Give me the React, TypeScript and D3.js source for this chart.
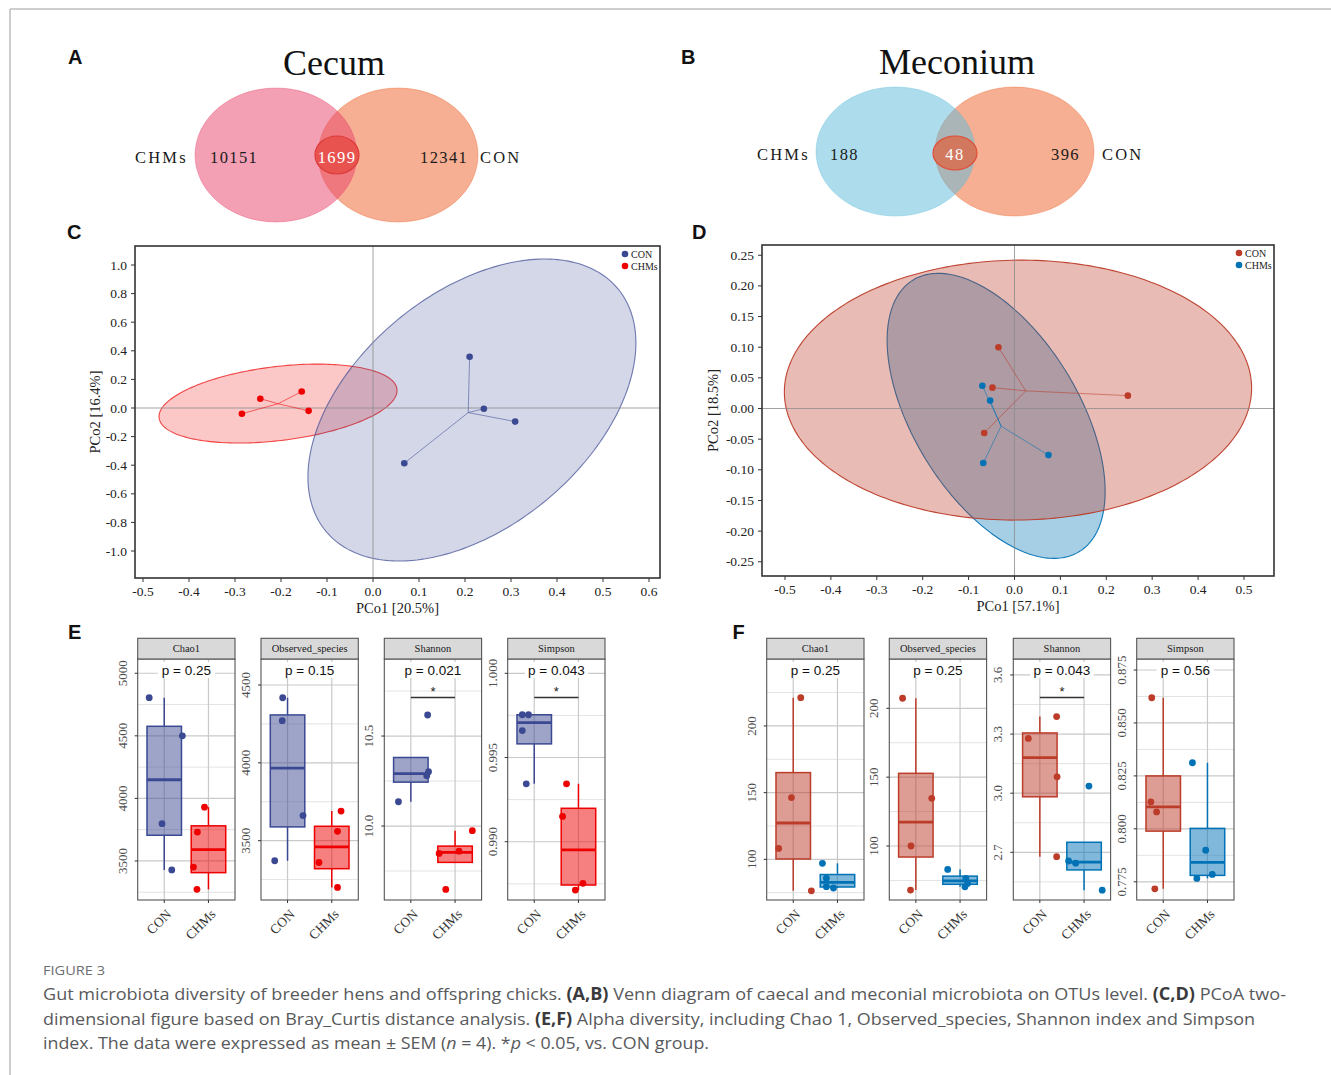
import React from "react";
import * as d3 from "d3";

const SERIF = "'Liberation Serif','Times New Roman',Times,serif";
const SANS = "'Liberation Sans',Arial,Helvetica,sans-serif";
const CAPTION_FONT = "'Open Sans','Noto Sans',sans-serif";

// ---------------- Venn (A, B) ----------------
const vennSetNames = ["CHMs", "CON"];
const cecumVennCounts = [10151, 1699, 12341]; // CHMs only, shared, CON only
const meconiumVennCounts = [188, 48, 396];

// ---------------- PCoA (C, D) ----------------
const pcoaGroupNames = ["CON", "CHMs"];
const cecumConPC1 = [0.21, 0.241, 0.309, 0.068];
const cecumConPC2 = [0.358, -0.005, -0.095, -0.386];
const cecumChmsPC1 = [-0.285, -0.245, -0.155, -0.14];
const cecumChmsPC2 = [-0.04, 0.065, 0.115, -0.02];
// ellipse: [center PC1, center PC2, half-width PC1, half-height PC2, correlation]
const cecumConEllipse = [0.215, -0.014, 0.3565, 1.056, 0.444];
const cecumChmsEllipse = [-0.2065, 0.031, 0.2587, 0.276, 0.33];
const cecumXTicks = [-0.5, -0.4, -0.3, -0.2, -0.1, 0, 0.1, 0.2, 0.3, 0.4, 0.5, 0.6];
const cecumYTicks = [-1.0, -0.8, -0.6, -0.4, -0.2, 0, 0.2, 0.4, 0.6, 0.8, 1.0];

const meconConPC1 = [-0.035, -0.048, -0.066, 0.247];
const meconConPC2 = [0.1, 0.034, -0.04, 0.021];
const meconChmsPC1 = [-0.07, -0.053, -0.068, 0.074];
const meconChmsPC2 = [0.037, 0.013, -0.089, -0.076];
const meconConEllipse = [0.0076, 0.03, 0.509, 0.212, 0.015];
const meconChmsEllipse = [-0.04, -0.012, 0.2375, 0.2325, -0.53];
const meconXTicks = [-0.5, -0.4, -0.3, -0.2, -0.1, 0, 0.1, 0.2, 0.3, 0.4, 0.5];
const meconYTicks = [-0.25, -0.2, -0.15, -0.1, -0.05, 0, 0.05, 0.1, 0.15, 0.2, 0.25];

// ---------------- Alpha diversity (E, F) ----------------
const boxCategories = ["CON", "CHMs"];
const indexNames = ["Chao1", "Observed_species", "Shannon", "Simpson"];

// E: cecum
const eChao1Con = [4805, 4500, 3798, 3428];
const eChao1ConJit = [-0.34, 0.41, -0.05, 0.17];
const eChao1Chms = [3930, 3731, 3451, 3273];
const eChao1ChmsJit = [-0.09, -0.25, -0.34, -0.26];
const eObsCon = [4418, 4271, 3661, 3371];
const eObsConJit = [-0.11, -0.12, 0.35, -0.29];
const eObsChms = [3690, 3560, 3360, 3200];
const eObsChmsJit = [0.21, 0.13, -0.29, 0.13];
const eShanCon = [10.617, 10.302, 10.28, 10.135];
const eShanConJit = [0.38, 0.4, 0.36, -0.28];
const eShanChms = [9.848, 9.86, 9.974, 9.648];
const eShanChmsJit = [-0.36, 0.09, 0.39, -0.21];
const eSimpCon = [0.99754, 0.99754, 0.9966, 0.99344];
const eSimpConJit = [-0.27, -0.13, -0.27, -0.18];
const eSimpChms = [0.99344, 0.9915, 0.98753, 0.98713];
const eSimpChmsJit = [-0.27, -0.36, 0.1, -0.07];
const ePLabels = ["p = 0.25", "p = 0.15", "p = 0.021", "p = 0.043"];
const eSignificant = [false, false, true, true];

// F: meconium
const fChao1Con = [221.2, 146.3, 108.2, 76.4];
const fChao1ConJit = [0.17, -0.04, -0.33, 0.41];
const fChao1Chms = [97, 85.8, 79.5, 78.5];
const fChao1ChmsJit = [-0.34, -0.25, -0.25, -0.09];
const fObsCon = [207.3, 134.6, 100, 68];
const fObsConJit = [-0.3, 0.36, -0.11, -0.12];
const fObsChms = [83, 76.5, 72.8, 70.4];
const fObsChmsJit = [-0.28, 0.13, 0.17, 0.11];
const fShanCon = [3.389, 3.278, 3.083, 2.678];
const fShanConJit = [0.38, -0.26, 0.39, 0.38];
const fShanChms = [3.036, 2.656, 2.645, 2.508];
const fShanChmsJit = [0.11, -0.35, -0.19, 0.41];
const fSimpCon = [0.8619, 0.8127, 0.808, 0.7717];
const fSimpConJit = [-0.26, -0.28, -0.15, -0.19];
const fSimpChms = [0.8312, 0.7899, 0.7766, 0.7785];
const fSimpChmsJit = [-0.34, -0.04, -0.24, 0.11];
const fPLabels = ["p = 0.25", "p = 0.25", "p = 0.043", "p = 0.56"];
const fSignificant = [false, false, true, false];

// axis scales (limits and tick values)
const eDomains = [[3188, 5114], [3119, 4667], [9.589, 10.928], [0.98654, 1.00085]];
const eMajors = [[3500, 4000, 4500, 5000], [3500, 4000, 4500], [10.0, 10.5], [0.99, 0.995, 1.0]];
const eMinors = [[3250, 3750, 4250, 4750], [3250, 3750, 4250], [9.75, 10.25, 10.75], [0.9875, 0.9925, 0.9975]];
const eDigits = [0, 0, 1, 3];
const fDomains = [[69.5, 250.2], [60.8, 235.8], [2.458, 3.681], [0.7664, 0.8802]];
const fMajors = [[100, 150, 200], [100, 150, 200], [2.7, 3.0, 3.3, 3.6], [0.775, 0.8, 0.825, 0.85, 0.875]];
const fMinors = [[75, 125, 175, 225], [75, 125, 175], [2.55, 2.85, 3.15, 3.45], [0.7875, 0.8125, 0.8375, 0.8625]];
const fDigits = [0, 0, 1, 3];

const AAAS_BLUE = "#3B4992";
const AAAS_RED = "#EE0000";
const NEJM_RED = "#BC3C29";
const NEJM_BLUE = "#0072B5";

function PCoA({ box, xDomain, yDomain, xTicks, yTicks, yDigits, groups, fillOpacity, strokeOpacity, xTitle, yTitle, yTitleX, legend, clipId }: any) {
  const [L, T, R, B] = box;
  const x = d3.scaleLinear().domain(xDomain).range([L, R]);
  const y = d3.scaleLinear().domain(yDomain).range([B, T]);
  const line = d3.line().curve(d3.curveLinearClosed);
  const ell = (e: number[]) => {
    const [cx, cy, sx, sy, r] = e;
    const ts = d3.range(0, 2 * Math.PI, Math.PI / 120);
    return line(ts.map((t) => [x(cx + sx * Math.cos(t)), y(cy + sy * (r * Math.cos(t) + Math.sqrt(1 - r * r) * Math.sin(t)))]) as any);
  };
  return (
    <g>
      <defs>
        <clipPath id={clipId}>
          <rect x={L} y={T} width={R - L} height={B - T} />
        </clipPath>
      </defs>
      <rect x={L} y={T} width={R - L} height={B - T} fill="#fff" />
      <g clipPath={`url(#${clipId})`}>
        {groups.map((g: any) => (
          <path key={"e" + g.name} d={ell(g.ellipse) as any} fill={g.color} fillOpacity={fillOpacity} stroke={g.color} strokeOpacity={strokeOpacity} strokeWidth={1.1} />
        ))}
        <line x1={x(0)} x2={x(0)} y1={T} y2={B} stroke="#8c8c8c" strokeWidth={1} strokeOpacity={0.8} />
        <line x1={L} x2={R} y1={y(0)} y2={y(0)} stroke="#8c8c8c" strokeWidth={1} strokeOpacity={0.8} />
        {groups.map((g: any) => {
          const mx = d3.mean(g.pc1) as number;
          const my = d3.mean(g.pc2) as number;
          return g.pc1.map((v: number, i: number) => (
            <line key={"s" + g.name + i} x1={x(v)} y1={y(g.pc2[i])} x2={x(mx)} y2={y(my)} stroke={g.color} strokeOpacity={0.55} strokeWidth={1} />
          ));
        })}
        {groups.map((g: any) =>
          g.pc1.map((v: number, i: number) => (
            <circle key={"p" + g.name + i} cx={x(v)} cy={y(g.pc2[i])} r={3.3} fill={g.color} />
          ))
        )}
      </g>
      {legend.map((name: string, i: number) => {
        const g = groups.find((d: any) => d.name === name);
        return (
          <g key={"lg" + name}>
            <circle cx={R - 35} cy={T + 8 + i * 12} r={3.3} fill={g.color} />
            <text x={R - 29} y={T + 11.5 + i * 12} fontFamily={SERIF} fontSize={10} fill="#222">{name}</text>
          </g>
        );
      })}
      <rect x={L} y={T} width={R - L} height={B - T} fill="none" stroke="#333" strokeWidth={1.6} />
      {xTicks.map((v: number) => (
        <g key={"xt" + v}>
          <line x1={x(v)} x2={x(v)} y1={B} y2={B + 4} stroke="#333" />
          <text x={x(v)} y={B + 18} textAnchor="middle" fontFamily={SERIF} fontSize={13.5} fill="#222">{v.toFixed(1)}</text>
        </g>
      ))}
      {yTicks.map((v: number) => (
        <g key={"yt" + v}>
          <line x1={L - 4} x2={L} y1={y(v)} y2={y(v)} stroke="#333" />
          <text x={L - 8} y={y(v) + 4.5} textAnchor="end" fontFamily={SERIF} fontSize={13.5} fill="#222">{v.toFixed(yDigits)}</text>
        </g>
      ))}
      <text x={(L + R) / 2} y={B + 35} textAnchor="middle" fontFamily={SERIF} fontSize={14.5} fill="#222">{xTitle}</text>
      <text transform={`translate(${yTitleX},${(T + B) / 2}) rotate(-90)`} textAnchor="middle" fontFamily={SERIF} fontSize={14.5} fill="#222">{yTitle}</text>
    </g>
  );
}

function boxStats(vals: number[]) {
  const s = [...vals].sort(d3.ascending);
  const q1 = d3.quantileSorted(s, 0.25) as number;
  const med = d3.quantileSorted(s, 0.5) as number;
  const q3 = d3.quantileSorted(s, 0.75) as number;
  const iqr = q3 - q1;
  const lo = d3.min(s.filter((v) => v >= q1 - 1.5 * iqr)) as number;
  const hi = d3.max(s.filter((v) => v <= q3 + 1.5 * iqr)) as number;
  return { q1, med, q3, lo, hi };
}

function BoxPanel({ left, title, domain, majors, minors, digits, groups, pLabel, sig }: any) {
  const W = 97.3, stripTop = 638.3, top = 659, bottom = 900;
  const x = d3.scalePoint().domain(boxCategories).range([left, left + W]).padding(0.6);
  const step = x.step();
  const y = d3.scaleLinear().domain(domain).range([bottom, top]);
  const cx = left + W / 2;
  const labelW = pLabel.length * 6.15 + 8;
  const hw = 0.39 * step;
  return (
    <g>
      <rect x={left} y={top} width={W} height={bottom - top} fill="#fff" />
      {minors.map((v: number) => (
        <line key={"mi" + v} x1={left} x2={left + W} y1={y(v)} y2={y(v)} stroke="#e3e3e3" strokeWidth={1} />
      ))}
      {majors.map((v: number) => (
        <line key={"ma" + v} x1={left} x2={left + W} y1={y(v)} y2={y(v)} stroke="#c9c9c9" strokeWidth={1.2} />
      ))}
      {boxCategories.map((c) => (
        <line key={"vg" + c} x1={x(c)} x2={x(c)} y1={top} y2={bottom} stroke="#c9c9c9" strokeWidth={1.2} />
      ))}
      <rect x={cx - labelW / 2} y={top + 3} width={labelW} height={16} fill="#fff" />
      <text x={cx} y={top + 16} textAnchor="middle" fontFamily={SANS} fontSize={13.5} fill="#111">{pLabel}</text>
      {groups.map((g: any) => {
        const st = boxStats(g.values);
        const xc = x(g.name) as number;
        return (
          <g key={"b" + g.name}>
            {st.hi > st.q3 && <line x1={xc} x2={xc} y1={y(st.q3)} y2={y(st.hi)} stroke={g.color} strokeWidth={1.5} />}
            {st.lo < st.q1 && <line x1={xc} x2={xc} y1={y(st.q1)} y2={y(st.lo)} stroke={g.color} strokeWidth={1.5} />}
            <rect x={xc - hw} y={y(st.q3)} width={2 * hw} height={y(st.q1) - y(st.q3)} fill={g.color} fillOpacity={0.5} stroke={g.color} strokeWidth={1.5} />
            <line x1={xc - hw} x2={xc + hw} y1={y(st.med)} y2={y(st.med)} stroke={g.color} strokeWidth={2.8} />
          </g>
        );
      })}
      {groups.map((g: any) =>
        g.values.map((v: number, i: number) => (
          <circle key={"pt" + g.name + i} cx={(x(g.name) as number) + g.jitter[i] * step} cy={y(v)} r={3.4} fill={g.color} />
        ))
      )}
      {sig && (
        <g>
          <line x1={x("CON")} x2={x("CHMs")} y1={top + 38.5} y2={top + 38.5} stroke="#333" strokeWidth={1.5} />
          <text x={cx} y={top + 36.5} textAnchor="middle" fontFamily={SANS} fontSize={13} fill="#222">*</text>
        </g>
      )}
      <rect x={left} y={top} width={W} height={bottom - top} fill="none" stroke="#555" strokeWidth={1.1} />
      <rect x={left} y={stripTop} width={W} height={top - stripTop} fill="#d9d9d9" stroke="#555" strokeWidth={1.1} />
      <text x={cx} y={(stripTop + top) / 2 + 3.6} textAnchor="middle" fontFamily={SERIF} fontSize={10.5} fill="#1a1a1a">{title}</text>
      {majors.map((v: number) => (
        <g key={"yl" + v}>
          <line x1={left - 3} x2={left} y1={y(v)} y2={y(v)} stroke="#333" />
          <text transform={`translate(${left - 11},${y(v)}) rotate(-90)`} textAnchor="middle" fontFamily={SERIF} fontSize={13} fill="#4d4d4d">{v.toFixed(digits)}</text>
        </g>
      ))}
      {boxCategories.map((c) => (
        <g key={"xl" + c}>
          <line x1={x(c)} x2={x(c)} y1={bottom} y2={bottom + 3} stroke="#333" />
          <text transform={`translate(${(x(c) as number) + 8},${bottom + 15}) rotate(-45)`} textAnchor="end" fontFamily={SERIF} fontSize={13.5} fill="#333">{c}</text>
        </g>
      ))}
    </g>
  );
}

function VennLabels({ y, labelLeftX, leftCountX, midX, rightCountX, labelRightX, counts }: any) {
  const common = { fontFamily: SERIF, fontSize: 16.5, fill: "#1a1a1a", letterSpacing: 1.4 } as any;
  return (
    <g>
      <text x={labelLeftX} y={y} {...common} letterSpacing={2.2}>{vennSetNames[0]}</text>
      <text x={leftCountX} y={y} {...common}>{counts[0]}</text>
      <text x={midX} y={y} {...common} fill="#fff" textAnchor="middle">{counts[1]}</text>
      <text x={rightCountX} y={y} {...common}>{counts[2]}</text>
      <text x={labelRightX} y={y} {...common} letterSpacing={2.2}>{vennSetNames[1]}</text>
    </g>
  );
}

export default function App() {
  const panelLettersStyle = { fontFamily: SANS, fontWeight: 700, fontSize: 20, fill: "#111" } as any;
  const eVals = [[eChao1Con, eChao1ConJit, eChao1Chms, eChao1ChmsJit], [eObsCon, eObsConJit, eObsChms, eObsChmsJit], [eShanCon, eShanConJit, eShanChms, eShanChmsJit], [eSimpCon, eSimpConJit, eSimpChms, eSimpChmsJit]];
  const fVals = [[fChao1Con, fChao1ConJit, fChao1Chms, fChao1ChmsJit], [fObsCon, fObsConJit, fObsChms, fObsChmsJit], [fShanCon, fShanConJit, fShanChms, fShanChmsJit], [fSimpCon, fSimpConJit, fSimpChms, fSimpChmsJit]];
  const eLefts = [137.7, 261, 384.3, 507.7];
  const fLefts = [766.7, 889.3, 1013.3, 1136.7];

  return (
    <div style={{ position: "absolute", left: 0, top: 0 }}>
      <svg width={1331} height={1075} style={{ display: "block", background: "#fff" }}>
        <rect width={1331} height={1075} fill="#fff" />
        <line x1={10} y1={9} x2={1331} y2={9} stroke="#bdbdbd" strokeWidth={1.5} />
        <line x1={10} y1={9} x2={10} y2={1075} stroke="#bdbdbd" strokeWidth={1.5} />

        {/* A: Cecum Venn */}
        <text x={68} y={64} {...panelLettersStyle}>A</text>
        <text x={334} y={75} textAnchor="middle" fontFamily={SERIF} fontSize={36} fill="#111">Cecum</text>
        <ellipse cx={398} cy={155} rx={80} ry={67} fill="#ED5F25" fillOpacity={0.5} stroke="#ED5F25" strokeOpacity={0.35} />
        <ellipse cx={276} cy={155} rx={81} ry={67} fill="#E8416B" fillOpacity={0.5} stroke="#E8416B" strokeOpacity={0.35} />
        <ellipse cx={337} cy={155} rx={22} ry={19} fill="#E8534F" stroke="#DC3A3A" strokeWidth={1.2} />
        <VennLabels y={163} labelLeftX={135} leftCountX={210} midX={337} rightCountX={420} labelRightX={480} counts={cecumVennCounts} />

        {/* B: Meconium Venn */}
        <text x={681} y={63.5} {...panelLettersStyle}>B</text>
        <text x={957} y={74} textAnchor="middle" fontFamily={SERIF} fontSize={36} fill="#111">Meconium</text>
        <ellipse cx={1014.5} cy={151.5} rx={79.5} ry={64.5} fill="#ED5F25" fillOpacity={0.5} stroke="#ED5F25" strokeOpacity={0.35} />
        <ellipse cx={895.5} cy={151.5} rx={79.5} ry={64.5} fill="#5BBBDB" fillOpacity={0.5} stroke="#5BBBDB" strokeOpacity={0.35} />
        <ellipse cx={955} cy={153} rx={22} ry={17} fill="#D2785F" stroke="#E04E36" strokeWidth={1.2} />
        <VennLabels y={159.5} labelLeftX={757} leftCountX={830} midX={955} rightCountX={1051} labelRightX={1102} counts={meconiumVennCounts} />

        {/* C: Cecum PCoA */}
        <text x={67} y={238.5} {...panelLettersStyle}>C</text>
        <PCoA
          clipId="clipC"
          box={[135, 246, 660, 578]}
          xDomain={[-0.5174, 0.6239]}
          yDomain={[-1.1888, 1.1329]}
          xTicks={cecumXTicks}
          yTicks={cecumYTicks}
          yDigits={1}
          fillOpacity={0.22}
          strokeOpacity={0.7}
          groups={[
            { name: pcoaGroupNames[1], color: AAAS_RED, pc1: cecumChmsPC1, pc2: cecumChmsPC2, ellipse: cecumChmsEllipse },
            { name: pcoaGroupNames[0], color: AAAS_BLUE, pc1: cecumConPC1, pc2: cecumConPC2, ellipse: cecumConEllipse },
          ]}
          legend={pcoaGroupNames}
          xTitle="PCo1 [20.5%]"
          yTitle="PCo2 [16.4%]"
          yTitleX={100}
        />

        {/* D: Meconium PCoA */}
        <text x={692} y={238.5} {...panelLettersStyle}>D</text>
        <PCoA
          clipId="clipD"
          box={[762, 245, 1274, 576]}
          xDomain={[-0.5501, 0.5654]}
          yDomain={[-0.2732, 0.2667]}
          xTicks={meconXTicks}
          yTicks={meconYTicks}
          yDigits={2}
          fillOpacity={0.35}
          strokeOpacity={0.95}
          groups={[
            { name: pcoaGroupNames[1], color: NEJM_BLUE, pc1: meconChmsPC1, pc2: meconChmsPC2, ellipse: meconChmsEllipse },
            { name: pcoaGroupNames[0], color: NEJM_RED, pc1: meconConPC1, pc2: meconConPC2, ellipse: meconConEllipse },
          ]}
          legend={pcoaGroupNames}
          xTitle="PCo1 [57.1%]"
          yTitle="PCo2 [18.5%]"
          yTitleX={718}
        />

        {/* E */}
        <text x={68} y={638.5} {...panelLettersStyle}>E</text>
        {indexNames.map((name, i) => (
          <BoxPanel
            key={"E" + name}
            left={eLefts[i]}
            title={name}
            domain={eDomains[i]}
            majors={eMajors[i]}
            minors={eMinors[i]}
            digits={eDigits[i]}
            pLabel={ePLabels[i]}
            sig={eSignificant[i]}
            groups={[
              { name: "CON", values: eVals[i][0], jitter: eVals[i][1], color: AAAS_BLUE },
              { name: "CHMs", values: eVals[i][2], jitter: eVals[i][3], color: AAAS_RED },
            ]}
          />
        ))}

        {/* F */}
        <text x={732.5} y={638.5} {...panelLettersStyle}>F</text>
        {indexNames.map((name, i) => (
          <BoxPanel
            key={"F" + name}
            left={fLefts[i]}
            title={name}
            domain={fDomains[i]}
            majors={fMajors[i]}
            minors={fMinors[i]}
            digits={fDigits[i]}
            pLabel={fPLabels[i]}
            sig={fSignificant[i]}
            groups={[
              { name: "CON", values: fVals[i][0], jitter: fVals[i][1], color: NEJM_RED },
              { name: "CHMs", values: fVals[i][2], jitter: fVals[i][3], color: NEJM_BLUE },
            ]}
          />
        ))}

        {/* Caption */}
        <text x={43} y={975} fontFamily={CAPTION_FONT} fontSize={12.5} fill="#6d6e71" textLength={62} lengthAdjust="spacingAndGlyphs">FIGURE 3</text>
        <text x={43} y={1000} fontFamily={CAPTION_FONT} fontSize={17} fill="#58595b" textLength={1243} lengthAdjust="spacingAndGlyphs">
          {"Gut microbiota diversity of breeder hens and offspring chicks. "}
          <tspan fontWeight={700} fill="#3a3a3c">(A,B)</tspan>
          {" Venn diagram of caecal and meconial microbiota on OTUs level. "}
          <tspan fontWeight={700} fill="#3a3a3c">(C,D)</tspan>
          {" PCoA two-"}
        </text>
        <text x={43} y={1024.5} fontFamily={CAPTION_FONT} fontSize={17} fill="#58595b" textLength={1212} lengthAdjust="spacingAndGlyphs">
          {"dimensional figure based on Bray_Curtis distance analysis. "}
          <tspan fontWeight={700} fill="#3a3a3c">(E,F)</tspan>
          {" Alpha diversity, including Chao 1, Observed_species, Shannon index and Simpson"}
        </text>
        <text x={43} y={1049} fontFamily={CAPTION_FONT} fontSize={17} fill="#58595b" textLength={666} lengthAdjust="spacingAndGlyphs">
          {"index. The data were expressed as mean ± SEM ("}
          <tspan fontStyle="italic">n</tspan>
          {" = 4). *"}
          <tspan fontStyle="italic">p</tspan>
          {" < 0.05, vs. CON group."}
        </text>
      </svg>
    </div>
  );
}
